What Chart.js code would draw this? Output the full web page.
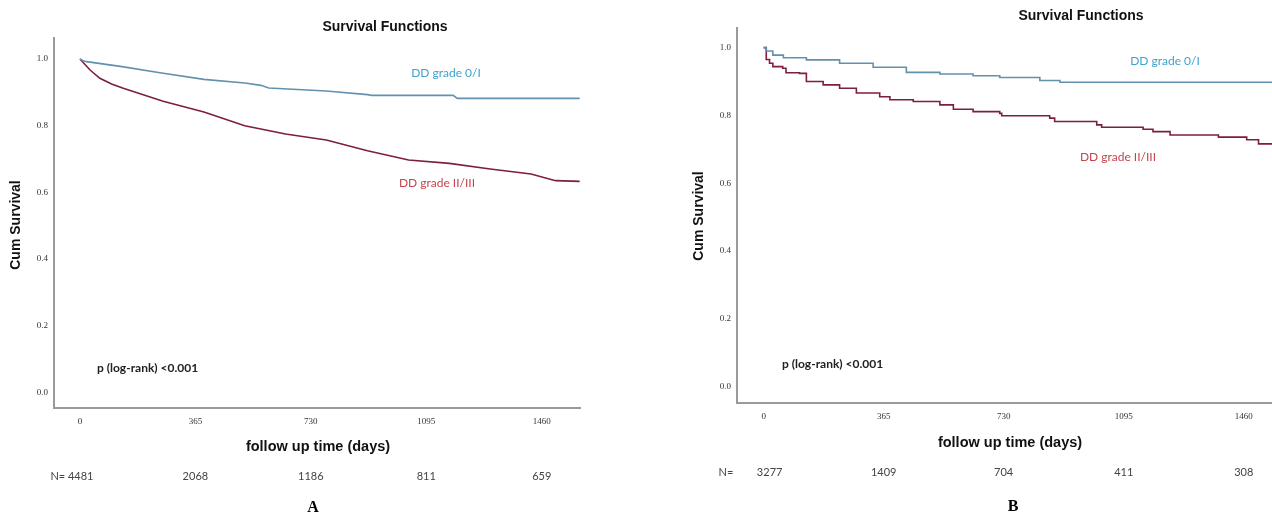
<!DOCTYPE html>
<html>
<head>
<meta charset="utf-8">
<title>Survival Functions</title>
<script src="https://cdn.jsdelivr.net/npm/chart.js@4.4.1/dist/chart.umd.min.js"></script>
<style>
  body { margin: 0; background: #fff; overflow: hidden; }
  #panelA { position: absolute; left: 0; top: 0; }
  #panelB { position: absolute; left: 640px; top: 0; }
</style>
</head>
<body>
<canvas id="panelA" width="640" height="517"></canvas>
<canvas id="panelB" width="632" height="517"></canvas>
<script>
// tick labels
const dayTicks = [0, 365, 730, 1095, 1460];
const survTicks = [0, 0.2, 0.4, 0.6, 0.8, 1.0];

// Panel A - DD grade 0/I
const daysA_low = [0, 10, 21, 133, 253, 392, 521, 572, 597, 779, 909, 922, 1180, 1193, 1580];
const survA_low = [1.0, 0.995, 0.992, 0.977, 0.959, 0.939, 0.928, 0.921, 0.913, 0.904, 0.893, 0.891, 0.891, 0.882, 0.882];
// Panel A - DD grade II/III
const daysA_high = [0, 32, 63, 100, 137, 263, 392, 521, 650, 779, 909, 1039, 1168, 1297, 1426, 1504, 1580];
const survA_high = [1.0, 0.967, 0.942, 0.925, 0.912, 0.873, 0.841, 0.800, 0.775, 0.757, 0.725, 0.697, 0.687, 0.670, 0.655, 0.635, 0.633];
const atRiskA = [4481, 2068, 1186, 811, 659];

// Panel B - DD grade 0/I
const daysB_low = [0, 8, 28, 60, 130, 231, 333, 434, 536, 637, 718, 840, 901, 1546];
const survB_low = [1.0, 0.99, 0.978, 0.970, 0.964, 0.954, 0.942, 0.927, 0.922, 0.917, 0.912, 0.903, 0.898, 0.898];
// Panel B - DD grade II/III
const daysB_high = [0, 8, 18, 28, 58, 68, 109, 130, 181, 231, 282, 353, 384, 455, 536, 577, 637, 718, 724, 870, 885, 1013, 1028, 1154, 1184, 1236, 1383, 1469, 1505, 1546];
const survB_high = [1.0, 0.965, 0.954, 0.944, 0.939, 0.926, 0.924, 0.900, 0.890, 0.880, 0.866, 0.855, 0.846, 0.841, 0.831, 0.818, 0.811, 0.806, 0.799, 0.792, 0.782, 0.772, 0.765, 0.759, 0.752, 0.742, 0.736, 0.728, 0.716, 0.716];
const atRiskB = [3277, 1409, 704, 411, 308];

const blueLine = '#6391ad';
const redLine = '#7d1e3e';

function toPoints(days, surv) {
  return days.map((d, i) => ({ x: d, y: surv[i] }));
}

// draws the titles, labels and numbers at risk
const notesPlugin = {
  id: 'notes',
  afterDraw(chart, args, opts) {
    const ctx = chart.ctx;
    const xs = chart.scales.x;
    ctx.save();
    ctx.textBaseline = 'middle';
    ctx.textAlign = 'center';
    ctx.fillStyle = '#111';
    ctx.font = 'bold 14px "Liberation Sans", Arial, sans-serif';
    ctx.fillText('Survival Functions', opts.title[0], opts.title[1]);

    ctx.font = 'bold 14.5px "Liberation Sans", Arial, sans-serif';
    ctx.fillText('follow up time (days)', opts.xTitle[0], opts.xTitle[1]);

    ctx.save();
    ctx.translate(opts.yTitle[0], opts.yTitle[1]);
    ctx.rotate(-Math.PI / 2);
    ctx.font = 'bold 14px "Liberation Sans", Arial, sans-serif';
    ctx.fillText('Cum Survival', 0, 0);
    ctx.restore();

    ctx.font = '12px Lato, sans-serif';
    ctx.fillStyle = '#3fa2cf';
    ctx.fillText('DD grade 0/I', opts.lowLabel[0], opts.lowLabel[1]);
    ctx.fillStyle = '#c4454f';
    ctx.fillText('DD grade II/III', opts.highLabel[0], opts.highLabel[1]);

    ctx.textAlign = 'left';
    ctx.fillStyle = '#222';
    ctx.font = 'bold 12px Lato, sans-serif';
    ctx.fillText('p (log-rank) <0.001', opts.pText[0], opts.pText[1]);

    // numbers at risk under each tick
    ctx.textAlign = 'center';
    ctx.font = '11px Lato, sans-serif';
    ctx.fillStyle = '#444';
    opts.atRisk.forEach((n, i) => {
      const x = xs.getPixelForValue(dayTicks[i]);
      if (i === 0 && opts.nInline) {
        ctx.fillText('N= ' + n, x - 8, opts.nY);
      } else {
        ctx.fillText(String(n), x + (i === 0 ? 6 : 0), opts.nY);
      }
    });
    if (!opts.nInline) {
      ctx.fillText('N=', opts.nLabelX, opts.nY);
    }

    ctx.fillStyle = '#000';
    ctx.font = 'bold 16px "Liberation Serif", serif';
    ctx.fillText(opts.letter, opts.letterPos[0], opts.letterPos[1]);
    ctx.restore();
  }
};

function makeChart(id, low, high, axis, notes) {
  const ctx = document.getElementById(id).getContext('2d');
  return new Chart(ctx, {
    type: 'line',
    data: {
      datasets: [{
        label: 'DD grade 0/I',
        data: low,
        borderColor: blueLine,
        borderWidth: 1.6,
        pointRadius: 0,
        stepped: axis.stepped,
        fill: false
      }, {
        label: 'DD grade II/III',
        data: high,
        borderColor: redLine,
        borderWidth: 1.6,
        pointRadius: 0,
        stepped: axis.stepped,
        fill: false
      }]
    },
    options: {
      responsive: false,
      animation: false,
      events: [],
      layout: { padding: axis.padding },
      plugins: {
        legend: { display: false },
        tooltip: { enabled: false },
        notes: notes
      },
      scales: {
        x: {
          type: 'linear',
          min: axis.xMin,
          max: axis.xMax,
          grid: { display: false, drawTicks: false },
          border: { display: true, color: '#9a9a9a', width: 2 },
          afterBuildTicks: s => { s.ticks = dayTicks.map(v => ({ value: v })); },
          afterFit: s => { s.height = axis.xHeight; },
          ticks: {
            padding: 8,
            color: '#333',
            font: { family: '"Liberation Serif", serif', size: 9 },
            callback: v => String(v)
          }
        },
        y: {
          min: axis.yMin,
          max: axis.yMax,
          grid: { display: false, drawTicks: false },
          border: { display: true, color: '#9a9a9a', width: 2 },
          afterBuildTicks: s => { s.ticks = survTicks.map(v => ({ value: v })); },
          afterFit: s => { s.width = axis.yWidth; },
          ticks: {
            padding: 6,
            color: '#333',
            font: { family: '"Liberation Serif", serif', size: 9 },
            callback: v => v.toFixed(1)
          }
        }
      }
    },
    plugins: [notesPlugin]
  });
}

makeChart('panelA', toPoints(daysA_low, survA_low), toPoints(daysA_high, survA_high), {
  stepped: false,
  padding: { left: 0, top: 38, right: 60, bottom: 0 },
  xMin: -82, xMax: 1581, yMin: -0.047, yMax: 1.063,
  xHeight: 109, yWidth: 54
}, {
  title: [385, 27], xTitle: [318, 447], yTitle: [16, 225],
  lowLabel: [446, 73], highLabel: [437, 183], pText: [97, 368],
  atRisk: atRiskA, nInline: true, nY: 476,
  letter: 'A', letterPos: [313, 508]
});

makeChart('panelB', toPoints(daysB_low, survB_low), toPoints(daysB_high, survB_high), {
  stepped: true,
  padding: { left: 0, top: 28, right: 0, bottom: 0 },
  xMin: -81, xMax: 1546, yMin: -0.049, yMax: 1.058,
  xHeight: 114, yWidth: 97
}, {
  title: [441, 16], xTitle: [370, 443], yTitle: [59, 216],
  lowLabel: [525, 61], highLabel: [478, 157], pText: [142, 364],
  atRisk: atRiskB, nInline: false, nLabelX: 86, nY: 472,
  letter: 'B', letterPos: [373, 507]
});
</script>
</body>
</html>
